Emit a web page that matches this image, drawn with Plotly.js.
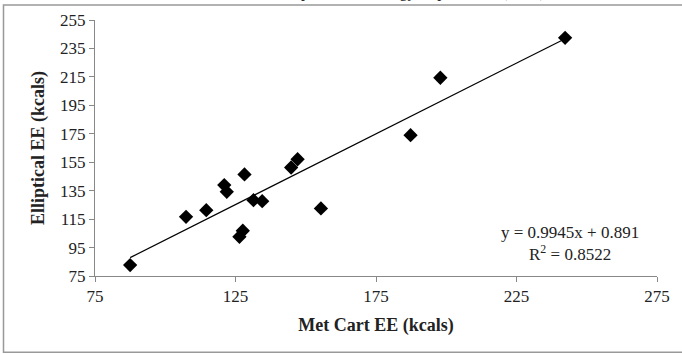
<!DOCTYPE html>
<html><head><meta charset="utf-8">
<script src="https://cdn.plot.ly/plotly-3.0.1.min.js"></script>
<style>html,body{margin:0;padding:0;background:#fff;}#chart{width:682px;height:354px;}</style>
</head><body><div id="chart"></div>
<script>
const metCartEE = [87.5, 107.4, 114.6, 121.0, 121.9, 126.4, 127.6, 128.2, 131.4, 134.5, 144.8, 147.1, 155.4, 187.3, 197.9, 242.3];
const ellipticalEE = [82.7, 116.6, 121.3, 138.9, 134.2, 102.6, 106.8, 146.4, 128.3, 127.6, 151.3, 157.1, 122.5, 174.0, 214.4, 242.5];
const slope = 0.9945, intercept = 0.891;
const xTicks = [75, 125, 175, 225, 275];
const yTicks = [75, 95, 115, 135, 155, 175, 195, 215, 235, 255];

const xMin = Math.min(...metCartEE), xMax = Math.max(...metCartEE);
const font = "'Liberation Serif', 'DejaVu Serif', serif";
const W = 682, H = 354, L = 95, R = 25, T = 19.5, B = 78;
const pw = W - L - R, ph = H - T - B;
const px = v => (v - L) / pw, py = v => (H - B - v) / ph;

Plotly.newPlot('chart', [
  {x: metCartEE, y: ellipticalEE, mode: 'markers', type: 'scatter',
   marker: {symbol: 'diamond', size: 11, color: '#000'}},
  {x: [xMin, xMax], y: [slope * xMin + intercept, slope * xMax + intercept], mode: 'lines', type: 'scatter',
   line: {color: '#000', width: 1.2}}
], {
  width: W, height: H, showlegend: false,
  margin: {l: L, r: R, t: T, b: B, pad: 0},
  paper_bgcolor: '#fff', plot_bgcolor: '#fff',
  font: {family: font, size: 17, color: '#222'},
  xaxis: {range: [75, 275], tickvals: xTicks, ticktext: xTicks.map(String), showgrid: false, zeroline: false,
    showline: true, linecolor: '#888', linewidth: 1, ticks: 'outside', ticklen: 5, tickcolor: '#888',
    tickfont: {family: font, size: 17, color: '#222'},
    title: {text: '<b>Met Cart EE (kcals)</b>', font: {family: font, size: 18, color: '#222'}, standoff: 12}},
  yaxis: {range: [75, 255], tickvals: yTicks, ticktext: yTicks.map(String), showgrid: false, zeroline: false,
    showline: true, linecolor: '#888', linewidth: 1, ticks: 'outside', ticklen: 5, tickcolor: '#888',
    tickfont: {family: font, size: 17, color: '#222'},
    title: {text: '<b>Elliptical EE (kcals)</b>', font: {family: font, size: 18, color: '#222'}, standoff: 10}},
  annotations: [
    {xref: 'paper', yref: 'paper', x: px(570), y: py(243), xanchor: 'center', yanchor: 'middle', showarrow: false,
     text: 'y = 0.9945x + 0.891<br>R<sup>2</sup> = 0.8522', font: {family: font, size: 17, color: '#222'}, align: 'center'},
    {xref: 'paper', yref: 'paper', x: px(407), y: py(2), xanchor: 'center', yanchor: 'bottom', showarrow: false,
     text: 'Comparison of Energy Expenditure (kcals)', font: {family: font, size: 16, color: '#222'}}
  ],
  shapes: [
    {type: 'rect', xref: 'paper', yref: 'paper', x0: px(3.5), x1: px(690), y0: py(352.5), y1: py(4.5),
     line: {color: '#999', width: 1.5}, fillcolor: 'rgba(0,0,0,0)', layer: 'below'}
  ]
}, {displayModeBar: false, staticPlot: true});
</script></body></html>
